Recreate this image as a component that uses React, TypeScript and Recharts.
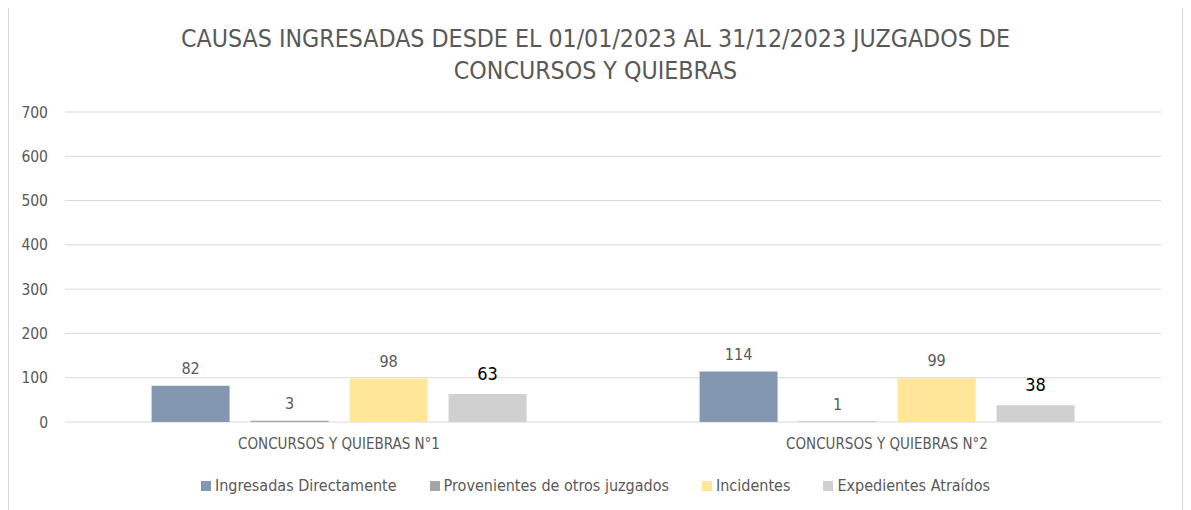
import { BarChart, Bar, XAxis, YAxis, CartesianGrid, LabelList } from 'recharts'

// #region Data
const categories = ['CONCURSOS Y QUIEBRAS N°1', 'CONCURSOS Y QUIEBRAS N°2']
const ingresadas = [82, 114]
const provenientes = [3, 1]
const incidentes = [98, 99]
const atraidos = [63, 38]
const yTicks = [0, 100, 200, 300, 400, 500, 600, 700]

const series = [
  { key: 'ingresadas', name: 'Ingresadas Directamente', color: '#8497B0', labelColor: '#595959', labelSize: 16, offset: 12 },
  { key: 'provenientes', name: 'Provenientes de otros juzgados', color: '#A5A5A5', labelColor: '#595959', labelSize: 16, offset: 12 },
  { key: 'incidentes', name: 'Incidentes', color: '#FFE699', labelColor: '#595959', labelSize: 16, offset: 12 },
  { key: 'atraidos', name: 'Expedientes Atraídos', color: '#D0D0D0', labelColor: '#000000', labelSize: 18, offset: 14 },
]

const data = categories.map((name, i) => ({
  name,
  ingresadas: ingresadas[i],
  provenientes: provenientes[i],
  incidentes: incidentes[i],
  atraidos: atraidos[i],
}))

const FONT = '"DejaVu Sans Condensed", "Liberation Sans", sans-serif'
const GREY = '#595959'

// legend drawn by hand so spacing matches Excel's
const ChartLegend = () => (
  <div
    style={{
      display: 'flex',
      justifyContent: 'center',
      gap: 33,
      fontFamily: FONT,
      fontSize: 16,
      color: GREY,
    }}
  >
    {series.map((s) => (
      <div key={s.key} style={{ display: 'flex', alignItems: 'center' }}>
        <span style={{ width: 10, height: 10, background: s.color, marginRight: 4, display: 'inline-block' }} />
        {s.name}
      </div>
    ))}
  </div>
)

export default function App() {
  return (
    <div
      style={{
        position: 'relative',
        top: -2,
        width: 1173,
        height: 510,
        border: '1px solid #d9d9d9',
        background: '#fff',
      }}
    >
      <div
        style={{
          position: 'absolute',
          top: 16,
          left: 0,
          width: '100%',
          textAlign: 'center',
          fontFamily: FONT,
          fontSize: 24.7,
          lineHeight: '32px',
          color: GREY,
        }}
      >
        CAUSAS INGRESADAS DESDE EL 01/01/2023 AL 31/12/2023 JUZGADOS DE
        <br />
        CONCURSOS Y QUIEBRAS
      </div>

      <BarChart
        width={1173}
        height={455}
        data={data}
        margin={{ top: 105, right: 21, left: 0, bottom: 0 }}
        barCategoryGap="15.8%"
        barGap={21}
      >
        <CartesianGrid vertical={false} stroke="#d9d9d9" />
        <XAxis
          dataKey="name"
          axisLine={false}
          tickLine={false}
          tick={{ fill: GREY, fontSize: 15, fontFamily: FONT }}
          tickMargin={10}
          height={40}
        />
        <YAxis
          domain={[0, 700]}
          ticks={yTicks}
          axisLine={false}
          tickLine={false}
          width={56}
          tick={{ fill: GREY, fontSize: 15.5, fontFamily: FONT }}
          tickMargin={11}
        />
        {series.map((s) => (
          <Bar key={s.key} dataKey={s.key} name={s.name} fill={s.color} isAnimationActive={false}>
            <LabelList
              dataKey={s.key}
              position="top"
              offset={s.offset}
              fill={s.labelColor}
              style={{ fontSize: s.labelSize, fontFamily: FONT }}
            />
          </Bar>
        ))}
      </BarChart>

      <div style={{ position: 'absolute', top: 469, left: 0, width: '100%' }}>
        <ChartLegend />
      </div>
    </div>
  )
}
